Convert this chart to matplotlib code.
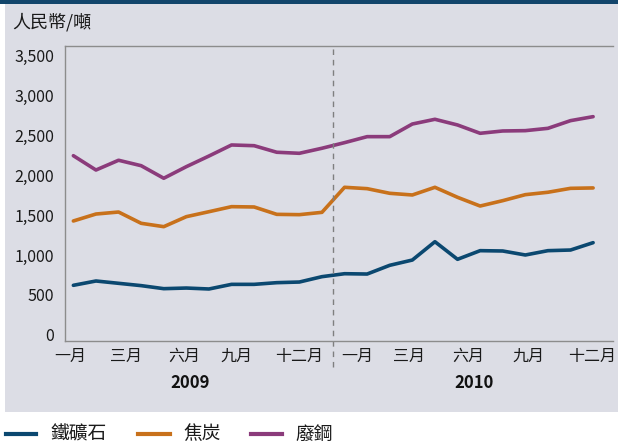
import matplotlib
matplotlib.use("Agg")
import matplotlib.pyplot as plt
from matplotlib.patches import Rectangle
from matplotlib.transforms import blended_transform_factory

plt.rcParams['font.family'] = ['Noto Sans CJK TC', 'DejaVu Sans']

months = list(range(24))
iron_ore = [621, 675, 646, 617, 579, 587, 575, 633, 633, 654, 662, 729,
            766, 762, 871, 937, 1166, 946, 1054, 1050, 1000, 1054, 1062, 1154]
coke = [1425, 1512, 1537, 1396, 1354, 1479, 1541, 1604, 1600, 1508, 1504, 1533,
        1846, 1829, 1771, 1750, 1846, 1721, 1612, 1679, 1754, 1784, 1833, 1838]
scrap = [2241, 2062, 2184, 2116, 1959, 2104, 2237, 2375, 2366, 2284, 2271, 2334,
         2404, 2479, 2479, 2637, 2696, 2625, 2521, 2550, 2554, 2583, 2679, 2729]
series_names = ['鐵礦石', '焦炭', '廢鋼']
colors = ['#0b4870', '#c8711b', '#8b3b7b']

month_label_pos = [-0.15, 2.33, 4.9, 7.23, 10.0, 12.58, 14.85, 17.46, 20.16, 22.95]
month_labels = ['一月', '三月', '六月', '九月', '十二月'] * 2
years = ['2009', '2010']
year_pos = [5.16, 17.73]
yticks = [0, 500, 1000, 1500, 2000, 2500, 3000, 3500]

W, H = 618, 445
fig = plt.figure(figsize=(W / 100, H / 100), dpi=100)
fig.patch.set_facecolor('white')

# background panel and top band
fig.patches.append(Rectangle((5 / W, 1 - 412 / H), (W - 5) / W, (412 - 4) / H,
                             transform=fig.transFigure, facecolor='#dcdde5',
                             edgecolor='none', zorder=-2))
fig.patches.append(Rectangle((0, 1 - 4 / H), 1, 4 / H, transform=fig.transFigure,
                             facecolor='#12456b', edgecolor='none', zorder=-2))

ax = fig.add_axes([65 / W, 1 - 341 / H, (613 - 65) / W, (341 - 46) / H])
ax.set_facecolor('none')

for vals, c in zip([iron_ore, coke, scrap], colors):
    ax.plot(months, vals, color=c, lw=2.6, solid_capstyle='round', solid_joinstyle='round')

ax.set_xlim(-0.37, 23.88)
ax.set_ylim(-75, 3612)

ax.set_yticks(yticks)
ax.set_yticklabels([f'{v:,}' for v in yticks], fontsize=11.5, color='#1a1a1a')
ax.tick_params(axis='y', length=0, pad=8)

ax.set_xticks(month_label_pos)
ax.set_xticklabels(month_labels, fontsize=11.5, color='#1a1a1a')
ax.tick_params(axis='x', length=0, pad=5)

for s in ['left', 'bottom', 'top']:
    ax.spines[s].set_color('#8c8c8c')
    ax.spines[s].set_linewidth(1.0)
ax.spines['right'].set_visible(False)

ax.axvline(11.5, ymin=-0.088, ymax=1.0, color='#7f7f7f', lw=1.0,
           ls=(0, (4, 3.5)), clip_on=False)

trans = blended_transform_factory(ax.transData, fig.transFigure)
for y, xp in zip(years, year_pos):
    ax.text(xp, 1 - 383 / H, y, transform=trans, ha='center', va='center',
            fontsize=12, fontweight='bold', color='#111111')

fig.text(12 / W, 1 - 22 / H, '人民幣/噸', fontsize=13, style='italic',
         ha='left', va='center', color='#1a1a1a')

# legend
ly = 1 - 434 / H
leg = [(6, 36, 50), (138, 170, 183), (251, 282, 295)]
for (x0, x1, xt), name, c in zip(leg, series_names, colors):
    fig.add_artist(plt.Line2D([x0 / W, x1 / W], [ly, ly], color=c, lw=3,
                              transform=fig.transFigure))
    fig.text(xt / W, ly, name, fontsize=13.5, ha='left', va='center', color='#1a1a1a')

fig.savefig('out.png', dpi=100)
